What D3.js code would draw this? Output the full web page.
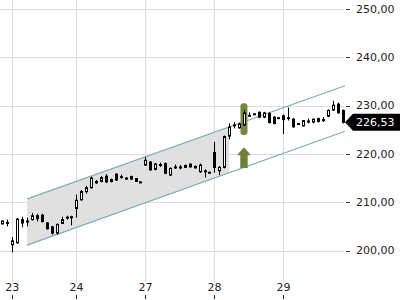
<!DOCTYPE html>
<html>
<head>
<meta charset="utf-8">
<script src="https://cdn.jsdelivr.net/npm/d3@7"></script>
<style>
    body { margin: 0; background: #fff; }
    svg { display: block; font-family: "DejaVu Sans", sans-serif; }
    .grid line { stroke: #dcdcdc; shape-rendering: crispEdges; }
    .axis text { fill: #222; font-size: 11px; }
</style>
</head>
<body>
<svg id="chart" width="400" height="300"></svg>
<script>
// hourly candles, index 0..69
const opens = [205.5, 205.8, 201.2, 201.6, 206.4, 206.0, 206.4, 207.2, 207.3, 205.7,
    204.9, 203.6, 205.6, 206.9, 206.9, 208.7, 210.5, 212.2, 213.0, 214.3,
    214.3, 215.4, 214.3, 215.8, 215.3, 215.0, 215.3, 214.9, 214.2, 217.7,
    218.3, 216.8, 217.7, 218.0, 215.6, 217.2, 217.3, 217.2, 217.9, 217.1,
    216.3, 216.4, 216.2, 220.3, 216.5, 217.2, 223.7, 225.9, 225.4, 226.0,
    227.9, 228.3, 228.6, 227.6, 228.4, 227.6, 227.5, 227.9, 227.4, 227.2,
    226.3, 225.8, 226.7, 226.6, 227.3, 227.0, 227.8, 229.1, 230.3, 229.0];
const highs = [206.2, 206.4, 202.8, 206.7, 207.0, 206.8, 207.8, 207.6, 207.6, 205.9,
    205.1, 205.6, 207.0, 207.2, 207.2, 211.6, 212.5, 213.4, 215.3, 214.6,
    215.4, 215.8, 214.9, 216.0, 215.7, 215.2, 215.5, 215.0, 214.3, 219.4,
    218.5, 218.1, 218.2, 218.2, 217.2, 217.8, 217.7, 217.8, 218.0, 217.6,
    218.0, 216.8, 216.3, 222.5, 217.5, 223.8, 226.3, 226.6, 226.5, 229.1,
    228.6, 228.4, 228.8, 228.7, 228.6, 227.8, 227.6, 228.1, 229.6, 227.4,
    226.4, 227.0, 227.3, 227.3, 227.5, 227.6, 229.2, 231.0, 230.6, 229.2];
const lows = [205.4, 205.0, 199.6, 201.4, 204.8, 205.0, 206.2, 206.0, 205.8, 204.3,
    203.3, 203.3, 205.5, 206.4, 205.2, 206.8, 210.3, 211.8, 212.8, 213.8,
    214.1, 214.0, 214.1, 214.4, 214.9, 214.6, 214.6, 214.2, 214.1, 217.5,
    216.5, 216.6, 217.3, 215.8, 215.4, 216.9, 216.8, 217.1, 217.2, 217.0,
    216.1, 215.1, 216.1, 216.1, 215.6, 217.0, 223.0, 225.3, 225.2, 225.8,
    227.7, 228.2, 227.4, 227.4, 226.3, 226.1, 227.4, 224.1, 226.9, 225.4,
    226.1, 225.7, 226.3, 226.3, 226.5, 226.6, 227.6, 228.9, 228.3, 226.3];
const closes = [206.1, 205.8, 202.0, 206.5, 205.7, 206.1, 207.2, 206.6, 206.0, 204.5,
    203.6, 205.4, 206.4, 206.9, 207.0, 210.4, 212.2, 213.0, 215.0, 214.0,
    215.1, 214.2, 214.7, 214.6, 215.3, 214.9, 214.8, 214.3, 214.1, 218.7,
    216.7, 217.9, 217.8, 216.0, 217.0, 217.3, 217.2, 217.6, 217.3, 217.4,
    217.7, 216.5, 216.2, 217.2, 217.2, 223.6, 225.6, 226.0, 226.2, 228.5,
    228.0, 228.3, 227.6, 228.5, 226.5, 226.3, 227.5, 227.1, 227.5, 225.6,
    226.2, 226.9, 226.8, 227.2, 226.7, 227.1, 229.0, 230.1, 228.5, 226.53];

const dayLabels = ["23", "24", "27", "28", "29"];
const dayTickIndex = [2, 15, 29, 43, 57];
const priceTicks = [200, 210, 220, 230, 240, 250];

// trend channel: [index, price]
const channelUpper = [[5, 210.7], [69.5, 234.1]];
const channelLower = [[5, 201.1], [69.5, 224.7]];
const shadeEndIndex = 46;

// buy signal
const signalIndex = 49;
const signalBar = [230.5, 223.9];
const signalArrow = [221.4, 217.1];

const plotRight = 345;
const svg = d3.select("#chart");

const candles = opens.map((o, i) => ({ i, o, h: highs[i], l: lows[i], c: closes[i] }));

const xScale = d3.scaleLinear().domain([-0.5, 69.5]).range([0, plotRight]);
const yScale = d3.scaleLinear().domain([200, 250]).range([250.5, 9]);

const locale = d3.formatLocale({ decimal: ",", thousands: ".", grouping: [3], currency: ["", "€"] });
const fmt = locale.format(".2f");

// grid
svg.append("g")
    .attr("class", "grid")
    .selectAll("line.h")
    .data(priceTicks)
    .enter()
    .append("line")
    .attr("x1", 0)
    .attr("x2", plotRight)
    .attr("y1", d => Math.round(yScale(d)) + 0.5)
    .attr("y2", d => Math.round(yScale(d)) + 0.5);

svg.append("g")
    .attr("class", "grid")
    .selectAll("line.v")
    .data(dayTickIndex)
    .enter()
    .append("line")
    .attr("x1", d => Math.round(xScale(d)) + 0.5)
    .attr("x2", d => Math.round(xScale(d)) + 0.5)
    .attr("y1", 0)
    .attr("y2", 283);

// channel shading
const shadeUpper = d3.interpolateNumber(channelUpper[0][1], channelUpper[1][1]);
const shadeLower = d3.interpolateNumber(channelLower[0][1], channelLower[1][1]);
const t = (shadeEndIndex - channelUpper[0][0]) / (channelUpper[1][0] - channelUpper[0][0]);
const shadePts = [
    [channelUpper[0][0], channelUpper[0][1]],
    [shadeEndIndex, shadeUpper(t)],
    [shadeEndIndex, shadeLower(t)],
    [channelLower[0][0], channelLower[0][1]]
];
svg.append("polygon")
    .attr("points", shadePts.map(p => [xScale(p[0]), yScale(p[1])].join(",")).join(" "))
    .attr("fill", "#e0e0e0");

const line = d3.line().x(d => xScale(d[0])).y(d => yScale(d[1]));
[channelUpper, channelLower].forEach(ch => {
    svg.append("path")
        .attr("d", line(ch))
        .attr("fill", "none")
        .attr("stroke", "#78b0b6")
        .attr("stroke-width", 1.2);
});

// signal highlight and arrow
const sx = xScale(signalIndex);
svg.append("rect")
    .attr("x", sx - 3.5)
    .attr("y", yScale(signalBar[0]))
    .attr("width", 7)
    .attr("height", yScale(signalBar[1]) - yScale(signalBar[0]))
    .attr("rx", 3)
    .attr("fill", "#74873f");

const aTop = yScale(signalArrow[0]);
const aBot = yScale(signalArrow[1]);
const headBase = aTop + 8;
svg.append("polygon")
    .attr("points", [
        [sx, aTop], [sx + 7, headBase], [sx + 3.7, headBase], [sx + 3.7, aBot],
        [sx - 3.7, aBot], [sx - 3.7, headBase], [sx - 7, headBase]
    ].map(p => p.join(",")).join(" "))
    .attr("fill", "#6e8136");

// candles
const cg = svg.selectAll("g.candle")
    .data(candles)
    .enter()
    .append("g")
    .attr("class", "candle");

cg.append("line")
    .attr("x1", d => Math.round(xScale(d.i)) + 0.5)
    .attr("x2", d => Math.round(xScale(d.i)) + 0.5)
    .attr("y1", d => yScale(d.h))
    .attr("y2", d => yScale(d.l))
    .attr("stroke", "#000")
    .attr("stroke-width", 1);

cg.append("rect")
    .attr("x", d => Math.round(xScale(d.i)) - 0.5)
    .attr("y", d => Math.min(yScale(d.o), yScale(d.c)))
    .attr("width", 2)
    .attr("height", d => Math.max(1, Math.abs(yScale(d.o) - yScale(d.c))))
    .attr("fill", d => d.c >= d.o ? "#fff" : "#000")
    .attr("stroke", "#000")
    .attr("stroke-width", 1);

// y axis (right)
const yAxis = svg.append("g").attr("class", "axis");
yAxis.selectAll("line")
    .data(priceTicks)
    .enter()
    .append("line")
    .attr("x1", plotRight + 1)
    .attr("x2", plotRight + 5)
    .attr("y1", d => Math.round(yScale(d)) + 0.5)
    .attr("y2", d => Math.round(yScale(d)) + 0.5)
    .attr("stroke", "#333");
yAxis.selectAll("text")
    .data(priceTicks)
    .enter()
    .append("text")
    .attr("x", 356)
    .attr("y", d => yScale(d))
    .attr("dy", "0.35em")
    .text(d => fmt(d));

// x axis labels
const xAxis = svg.append("g").attr("class", "axis");
xAxis.selectAll("text")
    .data(dayTickIndex)
    .enter()
    .append("text")
    .attr("x", d => xScale(d))
    .attr("y", 291)
    .attr("text-anchor", "middle")
    .text((d, k) => dayLabels[k]);
xAxis.selectAll("line")
    .data(dayTickIndex)
    .enter()
    .append("line")
    .attr("x1", d => Math.round(xScale(d)) + 0.5)
    .attr("x2", d => Math.round(xScale(d)) + 0.5)
    .attr("y1", 295)
    .attr("y2", 299)
    .attr("stroke", "#222");

// last price label
const last = closes[closes.length - 1];
const ly = yScale(last);
svg.append("polygon")
    .attr("points", [
        [plotRight, ly], [plotRight + 8, ly - 8.5], [400, ly - 8.5],
        [400, ly + 8.5], [plotRight + 8, ly + 8.5]
    ].map(p => p.join(",")).join(" "))
    .attr("fill", "#000");
svg.append("text")
    .attr("x", 356)
    .attr("y", ly)
    .attr("dy", "0.35em")
    .attr("fill", "#fff")
    .style("font-size", "11px")
    .text(fmt(last));
</script>
</body>
</html>
